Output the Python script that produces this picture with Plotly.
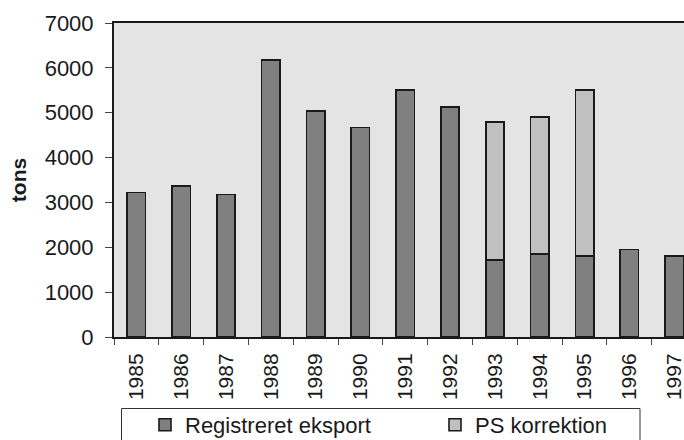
import plotly.graph_objects as go

years = ["1985", "1986", "1987", "1988", "1989", "1990", "1991",
         "1992", "1993", "1994", "1995", "1996", "1997"]
registreret = [3220, 3360, 3175, 6170, 5040, 4670, 5500,
               5130, 1710, 1850, 1800, 1950, 1800]
ps_korrektion = [None, None, None, None, None, None, None,
                 None, 3080, 3050, 3700, None, None]
y_ticks = [0, 1000, 2000, 3000, 4000, 5000, 6000, 7000]

FONT = "Liberation Sans, Arial, sans-serif"
INK = "#1a1a1a"

W, H = 684, 440
L, R, T, B = 114, 0, 23, 103
PW, PH = W - L - R, H - T - B


def px_x(px):
    # page pixel -> paper fraction
    return (px - L) / PW


def px_y(py):
    return (H - B - py) / PH


fig = go.Figure()
fig.add_trace(go.Bar(
    x=years, y=registreret, name="Registreret eksport",
    marker=dict(color="#808080", line=dict(color=INK, width=1.6)),
    width=0.41, legend="legend",
))
fig.add_trace(go.Bar(
    x=years, y=ps_korrektion, name="PS korrektion",
    marker=dict(color="#c0c0c0", line=dict(color=INK, width=1.6)),
    width=0.41, legend="legend2",
))

legend_common = dict(
    orientation="h", xanchor="left", yanchor="top",
    bgcolor="rgba(0,0,0,0)", borderwidth=0,
    font=dict(family=FONT, size=22, color=INK),
)

fig.update_layout(
    width=W, height=H,
    barmode="stack",
    margin=dict(l=L, r=R, t=T, b=B, pad=0, autoexpand=False),
    paper_bgcolor="white",
    plot_bgcolor="#e4e4e4",
    font=dict(family=FONT, size=22, color=INK),
    showlegend=True,
    legend=dict(x=px_x(145), y=px_y(404), **legend_common),
    legend2=dict(x=px_x(435), y=px_y(404), **legend_common),
    shapes=[dict(
        type="rect", xref="paper", yref="paper",
        x0=px_x(121.5), x1=px_x(640), y0=px_y(408.5), y1=px_y(470),
        line=dict(color="#333333", width=1), fillcolor="rgba(0,0,0,0)",
        layer="above",
    )],
    xaxis=dict(
        type="category",
        range=[-0.5, 12.22],
        tickangle=-90,
        tickson="boundaries",
        ticks="outside", ticklen=6, tickwidth=1, tickcolor="#444444",
        showline=True, linecolor=INK, linewidth=2, mirror=True,
        showgrid=False,
        automargin=False,
        tickfont=dict(family=FONT, size=21, color=INK),
        ticklabelstandoff=6,
    ),
    yaxis=dict(
        range=[0, 7000],
        tickvals=y_ticks,
        ticktext=[str(v) for v in y_ticks],
        ticks="outside", ticklen=7, tickwidth=1, tickcolor="#444444",
        showline=True, linecolor=INK, linewidth=2, mirror=False,
        showgrid=False, zeroline=False,
        automargin=False,
        tickfont=dict(family=FONT, size=22, color=INK),
        ticklabelstandoff=7,
        title=dict(text="<b>tons</b>", font=dict(family=FONT, size=21, color=INK),
                   standoff=12),
    ),
)

fig.write_html(
    "out.html",
    config={"displayModeBar": False},
    post_script="document.body.style.margin='0';document.body.style.overflow='hidden';",
)
